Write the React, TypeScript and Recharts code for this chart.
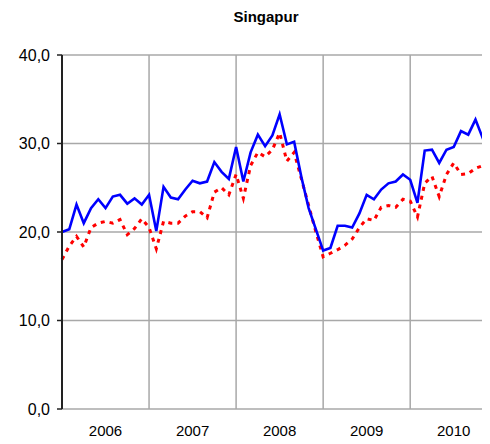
import { LineChart, Line, XAxis, YAxis, CartesianGrid } from "recharts";

// monthly values, Jan 2006 .. Dec 2010
const years = ["2006", "2007", "2008", "2009", "2010"];

const solidSeries = [
  20.0, 20.3, 23.1, 21.0, 22.7, 23.7, 22.7, 24.0, 24.2, 23.2, 23.8, 23.1,
  24.2, 20.1, 25.1, 23.9, 23.7, 24.8, 25.8, 25.5, 25.7, 27.9, 26.8, 26.0,
  29.6, 25.7, 29.0, 31.0, 29.7, 30.9, 33.3, 29.9, 30.2, 26.2, 22.7, 20.3,
  17.9, 18.2, 20.7, 20.7, 20.5, 22.1, 24.2, 23.7, 24.8, 25.5, 25.7, 26.5,
  25.9, 23.3, 29.2, 29.3, 27.8, 29.3, 29.6, 31.4, 31.0, 32.7, 30.6, 31.7,
];

const dottedSeries = [
  16.9, 18.4, 19.5, 18.3, 20.5, 21.0, 21.2, 21.0, 21.4, 19.7, 20.4, 21.5,
  20.5, 18.1, 21.2, 21.0, 21.0, 21.8, 22.3, 22.3, 21.6, 24.5, 25.0, 24.2,
  26.5, 23.8, 27.5, 29.0, 28.5, 29.3, 31.2, 28.0, 29.0, 26.0, 23.0, 20.0,
  17.2, 17.6, 18.0, 18.5, 19.2, 20.5, 21.5, 21.3, 22.8, 23.0, 22.8, 23.7,
  23.5, 21.7, 25.5, 26.3, 24.0, 26.5, 27.8, 26.5, 26.6, 27.2, 27.5, 27.4,
];

const yTicks = [0, 10, 20, 30, 40];
const yearBoundaries = [0, 12, 24, 36, 48];
const yearMiddles = [6, 18, 30, 42, 54];

const data = solidSeries.map((v, i) => ({ m: i, solid: v, dotted: dottedSeries[i] }));

const font = "'Liberation Sans', Arial, sans-serif";

export default function App() {
  return (
    <div style={{ margin: -8, position: "relative", width: 490, height: 444 }}>
      <div
        style={{
          position: "absolute",
          top: 8,
          left: 216,
          width: 100,
          textAlign: "center",
          fontFamily: font,
          fontWeight: "bold",
          fontSize: 15,
          color: "#000",
        }}
      >
        Singapur
      </div>
      <LineChart width={490} height={444} data={data} margin={{ top: 55, right: 0, bottom: 0, left: 0 }}>
        <CartesianGrid stroke="#a8a8a8" strokeWidth={1.5} verticalPoints={undefined} />
        <XAxis
          dataKey="m"
          type="number"
          domain={[0, 59]}
          ticks={yearBoundaries}
          height={0}
          tick={() => <g />}
          tickSize={5}
          tickLine={{ stroke: "#222", strokeWidth: 1.5 }}
          axisLine={{ stroke: "#222", strokeWidth: 2 }}
        />
        <XAxis
          xAxisId="yr"
          dataKey="m"
          type="number"
          domain={[0, 59]}
          ticks={yearMiddles}
          tickFormatter={(v) => years[(v - 6) / 12]}
          height={35}
          axisLine={false}
          tickLine={false}
          tickSize={6}
          tickMargin={10}
          tick={{ fill: "#000", fontSize: 15, fontFamily: font }}
        />
        <YAxis
          domain={[0, 40]}
          ticks={yTicks}
          width={62}
          tickFormatter={(v) => v.toFixed(1).replace(".", ",")}
          tickSize={5}
          tickMargin={7}
          tickLine={{ stroke: "#222", strokeWidth: 1.5 }}
          axisLine={{ stroke: "#222", strokeWidth: 2 }}
          tick={{ fill: "#000", fontSize: 16, fontFamily: font }}
        />
        <Line
          dataKey="dotted"
          stroke="#ff0000"
          strokeWidth={3}
          strokeDasharray="4 5"
          dot={false}
          isAnimationActive={false}
        />
        <Line dataKey="solid" stroke="#0000ff" strokeWidth={2.6} dot={false} isAnimationActive={false} />
      </LineChart>
    </div>
  );
}
